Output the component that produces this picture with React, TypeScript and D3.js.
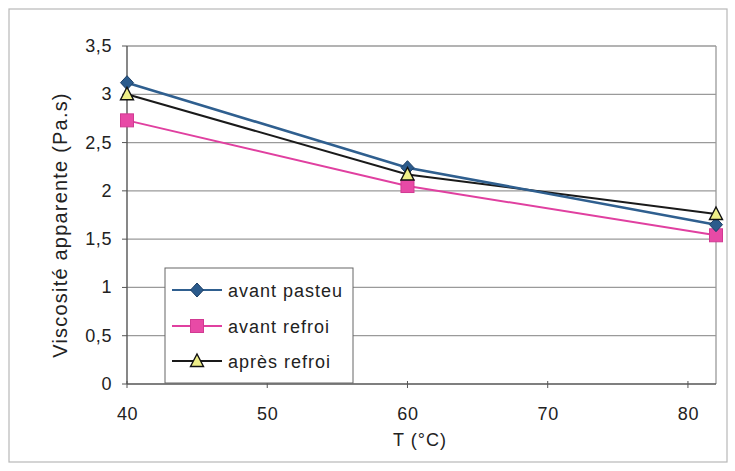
import React from "react";
import * as d3 from "d3";

const temps = [40, 60, 82];
const avantPasteu = [3.12, 2.24, 1.65];
const avantRefroi = [2.73, 2.05, 1.54];
const apresRefroi = [3.0, 2.17, 1.76];
const seriesNames = ["avant pasteu", "avant refroi", "après refroi"];
const xTicks = [40, 50, 60, 70, 80];
const yTicks = [0, 0.5, 1, 1.5, 2, 2.5, 3, 3.5];

const W = 735, H = 471;
const m = { left: 127, right: 716, top: 46, bottom: 384 };

export default function App() {
  const x = d3.scaleLinear().domain([40, 82]).range([m.left, m.right]);
  const y = d3.scaleLinear().domain([0, 3.5]).range([m.bottom, m.top]);
  const line = d3.line<number>().x((_, i) => x(temps[i])).y(d => y(d));
  const fmt = (v: number) => String(v).replace(".", ",");
  const font = "'Liberation Sans', Arial, sans-serif";
  const blue = "#2f5f8f", pink = "#e040a0", black = "#1a1a1a";
  const txt = { fontFamily: font, fontSize: 18, fill: "#222", letterSpacing: 0.6 } as const;

  const diamond = (cx: number, cy: number, k: string) => (
    <path key={k} d={`M${cx},${cy - 7}L${cx + 6.5},${cy}L${cx},${cy + 7}L${cx - 6.5},${cy}Z`} fill="#2b5b8c" stroke="#1d3f66" strokeWidth={1} />
  );
  const square = (cx: number, cy: number, k: string) => (
    <rect key={k} x={cx - 6.5} y={cy - 6.5} width={13} height={13} fill="#e84aa6" stroke="#d13a92" strokeWidth={1} />
  );
  const tri = (cx: number, cy: number, k: string) => (
    <path key={k} d={`M${cx},${cy - 7}L${cx + 6.5},${cy + 5.5}L${cx - 6.5},${cy + 5.5}Z`} fill="#eeee88" stroke="#111" strokeWidth={1.4} />
  );

  const legY = [290, 326, 361];

  return (
    <svg width={W} height={H} style={{ position: "absolute", left: 0, top: 0, background: "#fff" }}>
      <rect x={0} y={0} width={W} height={H} fill="#fff" />
      <rect x={9} y={9} width={718} height={453} fill="none" stroke="#b8b8b8" strokeWidth={1.2} />
      {yTicks.filter(v => v > 0).map(v => (
        <line key={v} x1={m.left} x2={m.right} y1={y(v)} y2={y(v)} stroke="#9a9a9a" strokeWidth={1.3} />
      ))}
      <line x1={m.right} x2={m.right} y1={m.top} y2={m.bottom} stroke="#9a9a9a" strokeWidth={1.3} />
      <line x1={m.left} x2={m.left} y1={m.top} y2={m.bottom} stroke="#555" strokeWidth={1.4} />
      <line x1={m.left} x2={m.right} y1={m.bottom} y2={m.bottom} stroke="#555" strokeWidth={1.4} />
      {yTicks.map(v => (
        <g key={v}>
          <line x1={m.left - 5} x2={m.left} y1={y(v)} y2={y(v)} stroke="#555" />
          <text x={112} y={y(v) + 6} textAnchor="end" {...txt}>{fmt(v)}</text>
        </g>
      ))}
      {xTicks.map(v => (
        <g key={v}>
          <line x1={x(v)} x2={x(v)} y1={m.bottom - 3} y2={m.bottom + 4} stroke="#555" />
          <text x={x(v) + 0.5} y={420} textAnchor="middle" {...txt}>{v}</text>
        </g>
      ))}
      <text x={420} y={446} textAnchor="middle" {...txt} letterSpacing={1}>T (°C)</text>
      <text transform={`translate(67,${225}) rotate(-90)`} textAnchor="middle" {...txt} fontSize={20} letterSpacing={1.2}>Viscosité apparente (Pa.s)</text>
      <path d={line(avantRefroi) || ""} fill="none" stroke={pink} strokeWidth={2} />
      <path d={line(apresRefroi) || ""} fill="none" stroke={black} strokeWidth={2} />
      <path d={line(avantPasteu) || ""} fill="none" stroke={blue} strokeWidth={2.6} />
      {avantRefroi.map((v, i) => square(x(temps[i]), y(v), "s" + i))}
      {avantPasteu.map((v, i) => diamond(x(temps[i]), y(v), "d" + i))}
      {apresRefroi.map((v, i) => tri(x(temps[i]), y(v), "t" + i))}
      <rect x={165} y={268} width={188} height={115} fill="#fff" stroke="#666" strokeWidth={1} />
      <line x1={172} x2={222} y1={legY[0]} y2={legY[0]} stroke={blue} strokeWidth={2} />
      {diamond(197, legY[0], "ld")}
      <line x1={172} x2={222} y1={legY[1]} y2={legY[1]} stroke={pink} strokeWidth={2} />
      {square(197, legY[1], "ls")}
      <line x1={172} x2={222} y1={legY[2]} y2={legY[2]} stroke={black} strokeWidth={2} />
      {tri(197, legY[2], "lt")}
      {seriesNames.map((n, i) => (
        <text key={n} x={228} y={legY[i] + 7} {...txt} letterSpacing={1}>{n}</text>
      ))}
    </svg>
  );
}
